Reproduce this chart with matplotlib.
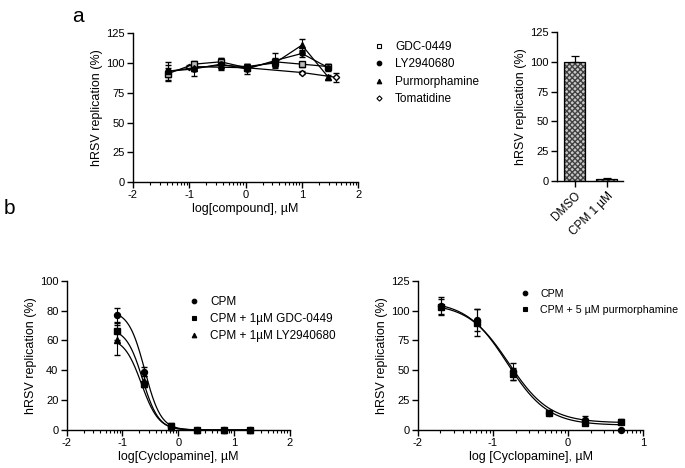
import matplotlib
matplotlib.use('Agg')
import matplotlib.pyplot as plt
from matplotlib.lines import Line2D
import numpy as np

plt.rcParams['font.family'] = ['Liberation Sans', 'DejaVu Sans']
plt.rcParams['font.size'] = 8
plt.rcParams['axes.linewidth'] = 1.0
plt.rcParams['axes.unicode_minus'] = False

# panel a, left: compound screen
a_x = [-1.38, -0.92, -0.44, 0.02, 0.52, 1.0, 1.47]
gdc = [91, 99, 101, 96, 101, 99, 97]
gdc_err = [5, 3, 3, 3, 3, 2, 2]
ly = [93, 95, 99, 95, 102, 108, 96]
ly_err = [8, 6, 5, 4, 6, 3, 3]
purm = [93, 96, 98, 97, 100, 115, 88]
purm_err = [5, 3, 3, 2, 3, 5, 2]
toma_x = [-1.0, 0.02, 1.0, 1.6]
toma = [97, 96, 92, 88]
toma_err = [1, 1, 1, 4]

# panel a, right: controls
bar_labels = ['DMSO', 'CPM 1 µM']
bar_vals = [100, 2]
bar_err = [5, 1]

# panel b, left
bl_x = [-1.09, -0.61, -0.13, 0.34, 0.82, 1.29]
bl_cpm = [77, 39, 2, 0, 0, 0]
bl_cpm_err = [4.5, 3, 2, 0, 0, 0]
bl_gdc = [66, 31, 3, 0, 0, 0]
bl_gdc_err = [6, 2, 2, 0, 0, 0]
bl_ly = [60, 33, 2, 0, 0, 0]
bl_ly_err = [10, 3, 1, 0, 0, 0]
# fitted curve params: top, bottom, logIC50, hill
bl_fit = {'cpm': (80, 0, -0.60, 3.0), 'gdc': (68, 0, -0.64, 3.0), 'ly': (62, 0, -0.66, 2.8)}

# panel b, right
br_x = [-1.69, -1.21, -0.73, -0.25, 0.23, 0.70]
br_cpm = [104, 92, 49, 14, 8, 0]
br_cpm_err = [7, 9, 7, 1, 4, 0]
br_pur = [103, 90, 47, 14, 6, 7]
br_pur_err = [7, 11, 5, 1, 2, 2]
br_fit = {'cpm': (108, 4, -0.81, 1.6), 'pur': (106, 6, -0.79, 1.6)}


def hill(x, top, bottom, ic50, h):
    return bottom + (top - bottom) / (1 + 10 ** ((x - ic50) * h))


def style(ax, xlim, ylim, yticks, minor_from, minor_to):
    ax.spines['top'].set_visible(False)
    ax.spines['right'].set_visible(False)
    ax.set_xlim(*xlim)
    ax.set_ylim(*ylim)
    ax.set_yticks(yticks)
    ax.set_xticks(np.arange(xlim[0], xlim[1] + 0.5, 1))
    minors = []
    for d in range(minor_from, minor_to):
        minors += list(d + np.log10(np.arange(2, 10)))
    ax.set_xticks(minors, minor=True)
    ax.tick_params(which='major', length=4, width=1, direction='out', pad=2)
    ax.tick_params(which='minor', length=2.5, width=0.8)


def mk(m, fc='black', ms=3.3):
    return Line2D([], [], ls='none', marker=m, mfc=fc, mec='black', ms=ms, mew=0.8)


fig = plt.figure(figsize=(6.85, 4.68), dpi=100)

# ---- a left
ax1 = fig.add_axes([0.194, 0.611, 0.329, 0.318])
kw = dict(color='black', lw=0.9, capsize=2.5, elinewidth=0.8, ms=3.8)
ax1.errorbar(toma_x, toma, yerr=toma_err, marker='D', mfc='white', mec='black',
             color='black', lw=0.9, capsize=2.5, elinewidth=0.8, ms=3.2)
ax1.errorbar(a_x, gdc, yerr=gdc_err, marker='s', mfc='#bbbbbb', mec='black', **kw)
ax1.errorbar(a_x, ly, yerr=ly_err, marker='o', mfc='black', **kw)
ax1.errorbar(a_x, purm, yerr=purm_err, marker='^', mfc='black', **kw)
style(ax1, (-2, 2), (0, 125), [0, 25, 50, 75, 100, 125], -2, 2)
ax1.set_xlabel('log[compound], µM', fontsize=9, labelpad=2)
ax1.set_ylabel('hRSV replication (%)', fontsize=9, labelpad=2)
fig.legend([mk('s', 'white'), mk('o'), mk('^'), mk('D', 'white', 2.6)],
           ['GDC-0449', 'LY2940680', 'Purmorphamine', 'Tomatidine'],
           loc='upper left', bbox_to_anchor=(0.527, 0.935), frameon=False,
           fontsize=8.5, handlelength=1.2, labelspacing=0.45, handletextpad=0.8)

# ---- a right
ax2 = fig.add_axes([0.813, 0.613, 0.096, 0.319])
xb = np.arange(len(bar_vals))
ax2.bar(xb, bar_vals, 0.66, color='#c8c8c8', hatch='xxxxxx', edgecolor='#404040', linewidth=0)
ax2.bar(xb, bar_vals, 0.66, color='none', edgecolor='black', linewidth=0.9,
        yerr=[[0, 0], bar_err], capsize=3, error_kw=dict(elinewidth=0.9, capthick=0.9))
ax2.spines['top'].set_visible(False)
ax2.spines['right'].set_visible(False)
ax2.set_xlim(-0.56, 1.5)
ax2.set_ylim(0, 125)
ax2.set_yticks([0, 25, 50, 75, 100, 125])
ax2.set_xticks(xb)
ax2.set_xticklabels(bar_labels, rotation=45, ha='right', rotation_mode='anchor', fontsize=8.5)
ax2.tick_params(length=4, width=1, pad=2)
ax2.set_ylabel('hRSV replication (%)', fontsize=9, labelpad=2)

# ---- b left
ax3 = fig.add_axes([0.0974, 0.0812, 0.3256, 0.319])
xs = np.linspace(bl_x[0], bl_x[-1], 300)
kwb = dict(color='black', lw=0, capsize=2.5, elinewidth=0.8, ms=4.3)
for key in ['cpm', 'gdc', 'ly']:
    ax3.plot(xs, hill(xs, *bl_fit[key]), color='black', lw=0.9)
for ys, err, m in [(bl_cpm, bl_cpm_err, 'o'), (bl_gdc, bl_gdc_err, 's'), (bl_ly, bl_ly_err, '^')]:
    ax3.errorbar(bl_x, ys, yerr=err, marker=m, mfc='black', clip_on=False, **kwb)
style(ax3, (-2, 2), (0, 100), [0, 20, 40, 60, 80, 100], -2, 2)
ax3.set_xlabel('log[Cyclopamine], µM', fontsize=9, labelpad=2)
ax3.set_ylabel('hRSV replication (%)', fontsize=9, labelpad=2)
ax3.legend([mk('o'), mk('s'), mk('^')], ['CPM', 'CPM + 1µM GDC-0449', 'CPM + 1µM LY2940680'],
           loc='upper left', bbox_to_anchor=(0.49, 0.97), frameon=False, fontsize=8.5,
           handlelength=1.2, labelspacing=0.45, handletextpad=0.8)

# ---- b right
ax4 = fig.add_axes([0.610, 0.0812, 0.329, 0.319])
xs = np.linspace(br_x[0], br_x[-1], 300)
for key in ['cpm', 'pur']:
    ax4.plot(xs, hill(xs, *br_fit[key]), color='black', lw=0.9)
for ys, err, m in [(br_cpm, br_cpm_err, 'o'), (br_pur, br_pur_err, 's')]:
    ax4.errorbar(br_x, ys, yerr=err, marker=m, mfc='black', clip_on=False, **kwb)
style(ax4, (-2, 1), (0, 125), [0, 25, 50, 75, 100, 125], -2, 1)
ax4.set_xlabel('log [Cyclopamine], µM', fontsize=9, labelpad=2)
ax4.set_ylabel('hRSV replication (%)', fontsize=9, labelpad=2)
ax4.legend([mk('o'), mk('s')], ['CPM', 'CPM + 5 µM purmorphamine'],
           loc='upper left', bbox_to_anchor=(0.405, 1.01), frameon=False, fontsize=7.7,
           handlelength=1.2, labelspacing=0.55, handletextpad=0.8)

fig.text(0.105, 0.985, 'a', fontsize=15, va='top')
fig.text(0.005, 0.575, 'b', fontsize=15, va='top')

fig.savefig('out.png', dpi=100)
